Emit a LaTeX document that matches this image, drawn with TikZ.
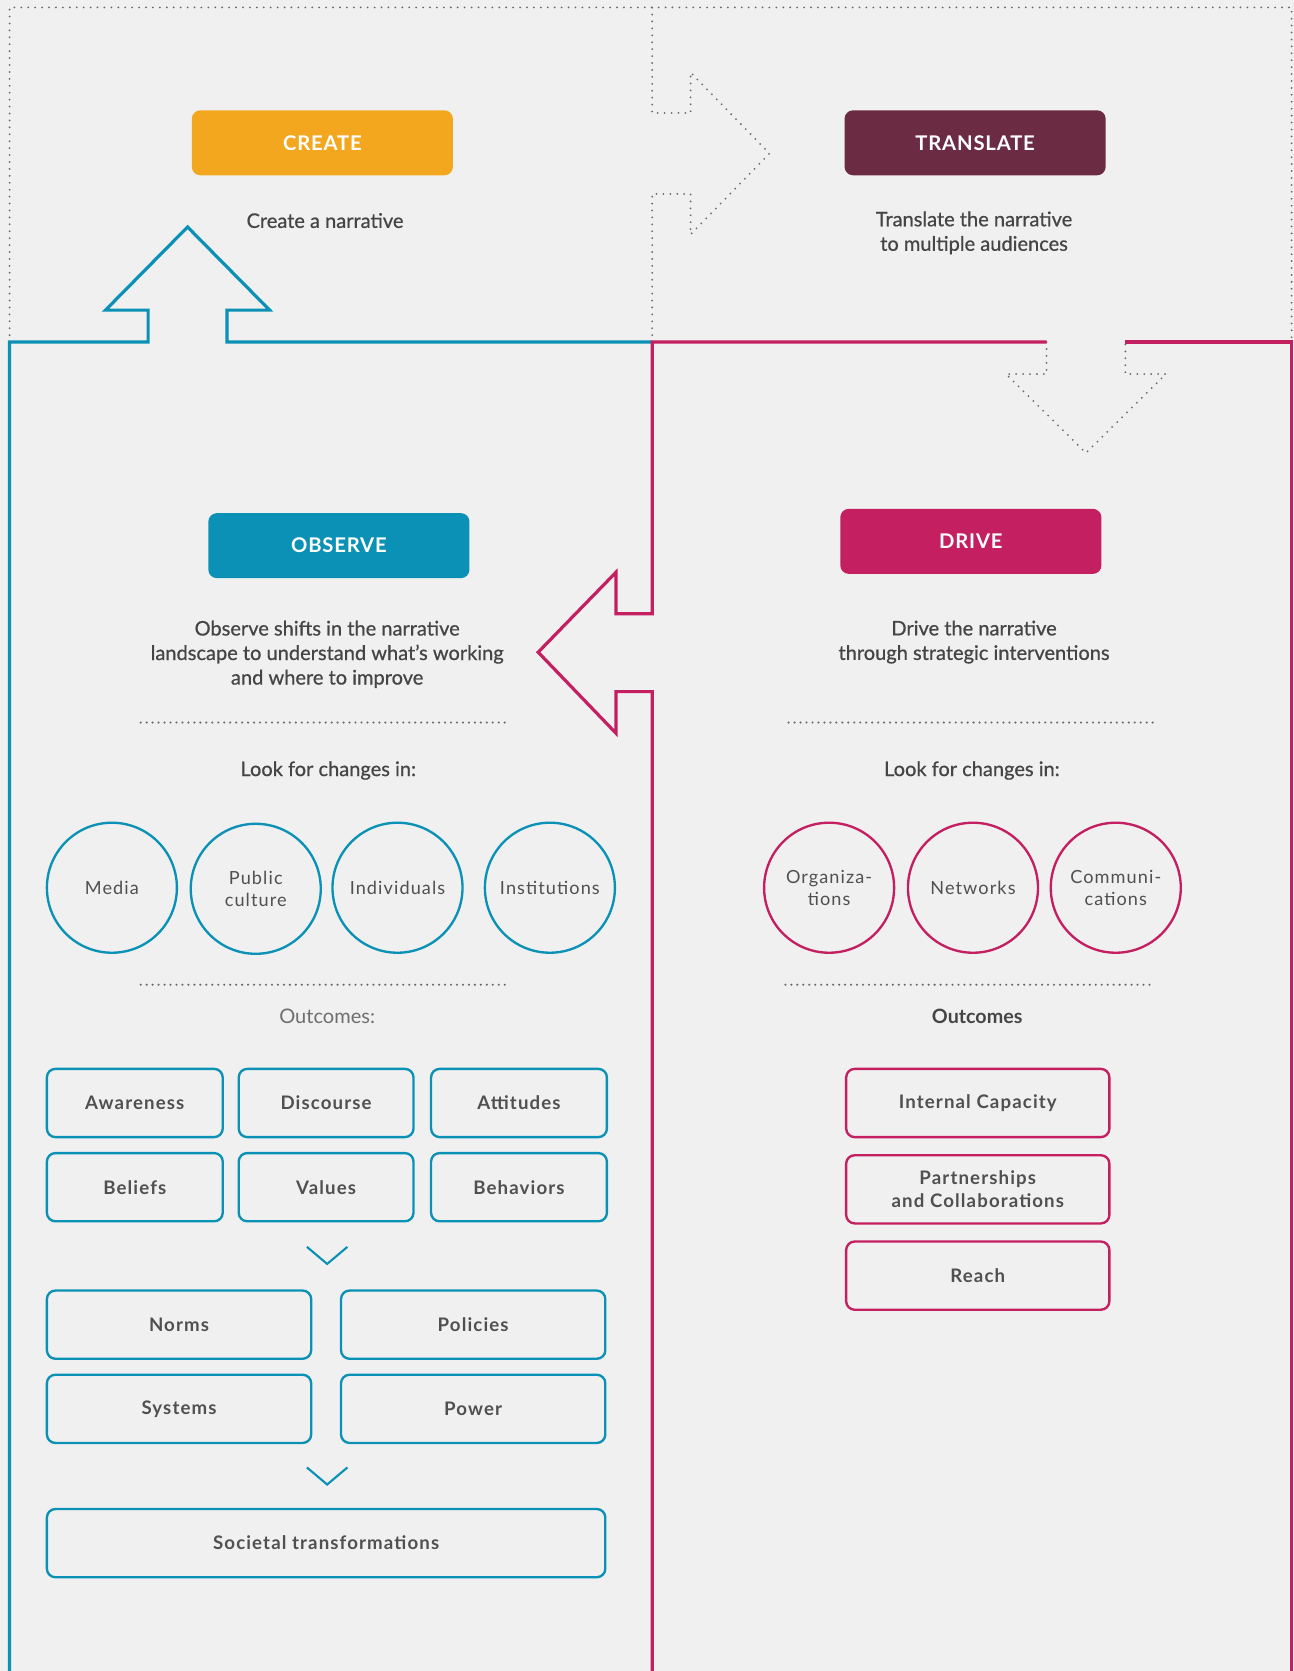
\documentclass[tikz,border=0pt]{standalone}
\usepackage{fontspec}
\setmainfont{Lato}
\newfontfamily\spacedfont[LetterSpace=6]{Lato}
\newfontfamily\headfontfam[LetterSpace=4]{Lato}
\newfontfamily\descfam[FakeBold=0.7]{Lato}
\definecolor{bgc}{HTML}{F1F0F0}
\definecolor{orangec}{HTML}{F2A71F}
\definecolor{maroonc}{HTML}{6A2B43}
\definecolor{bluec}{HTML}{0A91B5}
\definecolor{magc}{HTML}{C31F61}
\definecolor{txtc}{HTML}{454545}
\definecolor{lblc}{HTML}{505050}
\definecolor{lightc}{HTML}{6E6E6E}
\definecolor{dotc}{HTML}{6A6A6A}
\begin{document}
\begin{tikzpicture}[x=1pt,y=-1pt,
  phase/.style={rounded corners=8pt, minimum width=245pt, minimum height=61pt, text=white,
    font=\headfontfam\bfseries\fontsize{19}{22}\selectfont, inner sep=0pt},
  desc/.style={align=center, text=txtc, font=\descfam\fontsize{18.8}{23}\selectfont, inner sep=0pt},
  circ/.style={circle, draw, line width=2.2pt, minimum size=122pt, inner sep=0pt, align=center,
    text=lblc, font=\spacedfont\fontsize{17}{21}\selectfont},
  obox/.style={rounded corners=8pt, draw, line width=2.2pt, minimum height=64pt, inner sep=0pt,
    align=center, text=lblc, font=\spacedfont\bfseries\fontsize{17.5}{22}\selectfont},
  sepline/.style={dotc, line width=2.2pt, dash pattern=on 0pt off 5.6pt, line cap=round},
  border/.style={dotc, line width=1.9pt, dash pattern=on 0pt off 6.5pt, line cap=round},
  blueline/.style={bluec, line width=3pt, line join=miter},
  magline/.style={magc, line width=3pt, line join=miter},
  chev/.style={bluec, line width=2pt}
]
\fill[bgc] (0,0) rectangle (1214,1568);
\useasboundingbox (0,0) rectangle (1214,1568);

% dotted frame and arrows
\draw[border] (9,321) -- (9,7) -- (1212,7) -- (1212,321);
\draw[border] (612,321) -- (612,182) -- (648,182) -- (648,220) -- (722,144) -- (648,68) -- (648,106) -- (612,106) -- (612,7);
\draw[border] (982,321) -- (982,351) -- (944,351) -- (1019,425) -- (1094,351) -- (1056,351) -- (1056,321);

% blue frame with up arrow
\draw[blueline] (9,1568) -- (9,321) -- (139,321) -- (139,291) -- (99,291) -- (176,213) -- (253,291) -- (213,291) -- (213,321) -- (612,321);
% magenta frame with left arrow
\draw[magline] (1212,1568) -- (1212,321) -- (1056,321);
\draw[magline] (982,321) -- (612,321) -- (612,576) -- (578,576) -- (578,537) -- (505,612) -- (578,688) -- (578,649) -- (612,649) -- (612,1568);

% phase boxes
\node[phase, fill=orangec] (create) at (302.5,134) {CREATE};
\node[phase, fill=maroonc] (translate) at (915,134) {TRANSLATE};
\node[phase, fill=bluec] (observe) at (318,512) {OBSERVE};
\node[phase, fill=magc] (drive) at (911,508) {DRIVE};

% descriptions
\node[desc] (createdesc) at (305,207) {Create a narrative};
\node[desc] (transdesc) at (914,218.5) {Translate the narrative\\to multiple audiences};
\node[desc] (obsdesc) at (307,614) {Observe shifts in the narrative\\landscape to understand what’s working\\and where to improve};
\node[desc] (drivedesc) at (914,602.5) {Drive the narrative\\through strategic interventions};

% separators
\draw[sepline] (132,678) -- (477,678);
\draw[sepline] (132,924) -- (477,924);
\draw[sepline] (740,678) -- (1084,678);
\draw[sepline] (737,924) -- (1080,924);

\node[desc] (lookl) at (308,723) {Look for changes in:};
\node[desc] (lookr) at (912,723) {Look for changes in:};
\node[desc, text=lightc, font=\fontsize{18.8}{23}\selectfont] (outl) at (307,954) {Outcomes:};
\node[desc, font=\bfseries\fontsize{18.5}{23}\selectfont] (outr) at (917,954) {Outcomes};

% circles left
\node[circ, bluec] (media) at (105,833) {\textcolor{lblc}{Media}};
\node[circ, bluec] (public) at (240,834) {\textcolor{lblc}{Public}\\\textcolor{lblc}{culture}};
\node[circ, bluec] (indiv) at (373,833) {\textcolor{lblc}{Individuals}};
\node[circ, bluec] (inst) at (516,833) {\textcolor{lblc}{Institutions}};
% circles right
\node[circ, magc] (org) at (778,833) {\textcolor{lblc}{Organiza-}\\\textcolor{lblc}{tions}};
\node[circ, magc] (net) at (913,833) {\textcolor{lblc}{Networks}};
\node[circ, magc] (comm) at (1047,833) {\textcolor{lblc}{Communi-}\\\textcolor{lblc}{cations}};

% outcome boxes left
\node[obox, bluec, minimum width=165pt] (aware) at (126.5,1035) {\textcolor{lblc}{Awareness}};
\node[obox, bluec, minimum width=164pt] (disc) at (306,1035) {\textcolor{lblc}{Discourse}};
\node[obox, bluec, minimum width=165pt] (att) at (487,1035) {\textcolor{lblc}{Attitudes}};
\node[obox, bluec, minimum width=165pt] (bel) at (126.5,1114) {\textcolor{lblc}{Beliefs}};
\node[obox, bluec, minimum width=164pt] (val) at (306,1114) {\textcolor{lblc}{Values}};
\node[obox, bluec, minimum width=165pt] (beh) at (487,1114) {\textcolor{lblc}{Behaviors}};
\node[obox, bluec, minimum width=248pt] (norms) at (168,1243) {\textcolor{lblc}{Norms}};
\node[obox, bluec, minimum width=248pt] (pol) at (444,1243) {\textcolor{lblc}{Policies}};
\node[obox, bluec, minimum width=248pt] (sys) at (168,1322) {\textcolor{lblc}{Systems}};
\node[obox, bluec, minimum width=248pt] (pow) at (444,1322) {\textcolor{lblc}{Power}};
\node[obox, bluec, minimum width=524pt] (soc) at (306,1448) {\textcolor{lblc}{Societal transformations}};

% chevrons
\draw[chev] (288,1170) -- (307,1186) -- (326,1170);
\draw[chev] (288,1377) -- (307,1393) -- (326,1377);

% outcome boxes right
\node[obox, magc, minimum width=247pt] (cap) at (917.5,1035) {\textcolor{lblc}{Internal Capacity}};
\node[obox, magc, minimum width=247pt] (part) at (917.5,1116) {\textcolor{lblc}{Partnerships}\\\textcolor{lblc}{and Collaborations}};
\node[obox, magc, minimum width=247pt] (reach) at (917.5,1197) {\textcolor{lblc}{Reach}};
\end{tikzpicture}
\end{document}
